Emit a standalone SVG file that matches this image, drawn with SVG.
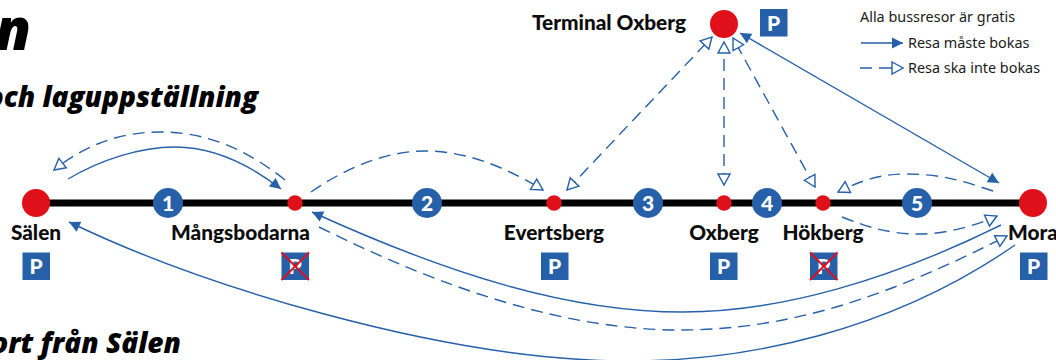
<svg xmlns="http://www.w3.org/2000/svg" width="1056" height="360" viewBox="0 0 1056 360">
<style>
.h{font-family:"Open Sans","Liberation Sans",sans-serif;font-weight:800;font-style:italic;fill:#000;text-anchor:end}
.l{font-family:Lato,"Liberation Sans",sans-serif;font-weight:900;font-size:20.8px;fill:#0c0c0c;text-anchor:middle}
.k{font-family:"Noto Sans","Liberation Sans",sans-serif;font-size:14.4px;fill:#1a1a1a}
.n{font-family:Lato,"Liberation Sans",sans-serif;font-weight:900;font-size:21px;fill:#fff;text-anchor:middle}
.s{fill:#e0101a}
.b{fill:#2560a8}
.c{fill:none;stroke:#2560a8;stroke-width:1.4}
.d{stroke-dasharray:12 7}
.x{stroke:#e0101a;stroke-width:2;fill:none}
</style>
<defs>
<marker id="sa" markerUnits="userSpaceOnUse" markerWidth="14" markerHeight="14" refX="12" refY="7" orient="auto-start-reverse"><path d="M1 1.5L12 7L1 12.5Z" fill="#2560a8"/></marker>
<marker id="oa" markerUnits="userSpaceOnUse" markerWidth="16" markerHeight="16" refX="13" refY="8" orient="auto-start-reverse"><path d="M2 2L13 8L2 14Z" fill="#fff" stroke="#2560a8" stroke-width="1.4"/></marker>
<g id="pk"><rect width="27.5" height="27.5" fill="#2560a8"/><text x="13.7" y="21.5" class="n">P</text></g>
<g id="px"><path class="x" d="M0 0L27.5 27.500M27.500 0L0 27.500"/></g>
</defs>
<text class="h" x="31" y="50" font-size="58">n</text>
<text class="h" x="258" y="107" font-size="28">och laguppställning</text>
<text class="h" x="181" y="353" font-size="28">ort från Sälen</text>
<rect x="36" y="199.500" width="997" height="7" fill="#000"/>
<g id="connectors">
<path class="c d" marker-end="url(#oa)" d="M285 180C250 152 210 132 160 132C120 132 85 145 54 170"/>
<path class="c" marker-end="url(#sa)" d="M68 179C100 160 140 147 175 147C215 147 250 165 281 189"/>
<path class="c d" marker-end="url(#oa)" d="M311 192C350 165 390 151 425 151C470 151 510 170 543 190"/>
<path class="c d" marker-start="url(#oa)" marker-end="url(#oa)" d="M567 190L712 37"/>
<path class="c d" marker-start="url(#oa)" marker-end="url(#oa)" d="M724 185V42"/>
<path class="c d" marker-start="url(#oa)" marker-end="url(#oa)" d="M815 187L733 38"/>
<path class="c" marker-start="url(#sa)" marker-end="url(#sa)" d="M999 183L740 33"/>
<path class="c d" marker-end="url(#oa)" d="M993 191C960 180 940 174 905 174C880 174 860 181 838 192"/>
<path class="c d" marker-end="url(#oa)" d="M842 217C870 228 890 234 920 234C945 234 975 226 997 216"/>
<path class="c" marker-end="url(#sa)" d="M1001 225C890 280 780 312 683 312C570 312 450 275 312 212"/>
<path class="c d" marker-end="url(#oa)" d="M319 227C450 292 570 330 680 330C800 330 900 290 1007 236"/>
<path class="c" marker-end="url(#sa)" d="M1015 245C900 325 750 368 590 360C430 352 210 290 69 222"/>
</g>
<g id="node-salen"><circle class="s" cx="36" cy="203" r="14"/><text class="l" x="36" y="240">Sälen</text><use href="#pk" x="22.500" y="252.500"/></g>
<g id="node-1"><circle class="b" cx="168" cy="203" r="15"/><text class="n" x="168" y="210.500">1</text></g>
<g id="node-mangsbodarna"><circle class="s" cx="295" cy="203" r="7.700"/><text class="l" x="240.500" y="240">Mångsbodarna</text><use href="#pk" x="281.500" y="252.500"/><use href="#px" x="281.500" y="252.500"/></g>
<g id="node-2"><circle class="b" cx="427" cy="203" r="15"/><text class="n" x="427" y="210.500">2</text></g>
<g id="node-evertsberg"><circle class="s" cx="554" cy="203" r="7.700"/><text class="l" x="554" y="240">Evertsberg</text><use href="#pk" x="541" y="252.500"/></g>
<g id="node-3"><circle class="b" cx="648" cy="203" r="15"/><text class="n" x="648" y="210.500">3</text></g>
<g id="node-oxberg"><circle class="s" cx="724" cy="203" r="7.700"/><text class="l" x="724" y="240">Oxberg</text><use href="#pk" x="710" y="252.500"/></g>
<g id="node-4"><circle class="b" cx="767" cy="203" r="15"/><text class="n" x="767" y="210.500">4</text></g>
<g id="node-hokberg"><circle class="s" cx="823" cy="203" r="7.700"/><text class="l" x="823" y="240">Hökberg</text><use href="#pk" x="810" y="252.500"/><use href="#px" x="810" y="252.500"/></g>
<g id="node-5"><circle class="b" cx="917" cy="203" r="15"/><text class="n" x="917" y="210.500">5</text></g>
<g id="node-mora"><circle class="s" cx="1033" cy="203" r="14"/><text class="l" x="1033" y="240">Mora</text><use href="#pk" x="1020" y="252.500"/></g>
<g id="node-terminal"><circle class="s" cx="724" cy="24" r="14"/><text class="l" x="609" y="30">Terminal Oxberg</text><use href="#pk" x="760" y="9"/></g>
<g id="legend">
<text class="k" x="860" y="22">Alla bussresor är gratis</text>
<path class="c" marker-end="url(#sa)" d="M861 43H903"/>
<text class="k" x="908" y="48">Resa måste bokas</text>
<path class="c" d="M860 68H872M879 68H893"/>
<path d="M892 62L903 68L892 74Z" fill="#fff" stroke="#2560a8" stroke-width="1.400"/>
<text class="k" x="908" y="73">Resa ska inte bokas</text>
</g>
</svg>
